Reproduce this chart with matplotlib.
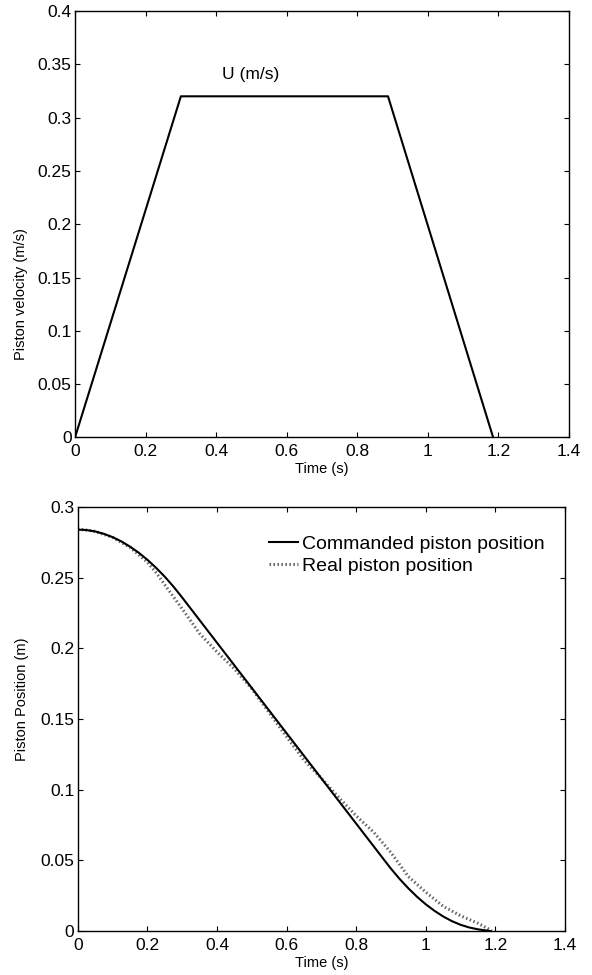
import matplotlib
matplotlib.use("Agg")
import matplotlib.pyplot as plt

plt.rcParams['font.family'] = ['Liberation Sans', 'DejaVu Sans']

# ---- top panel: piston velocity ----
vel_time = [0.0, 0.3, 0.887, 1.185]
vel_values = [0.0, 0.32, 0.32, 0.0]

# ---- bottom panel: piston position ----
cmd_time = [0.0, 0.025, 0.05, 0.075, 0.1, 0.125, 0.15, 0.175, 0.2, 0.225, 0.25, 0.275, 0.3,
            0.4, 0.5, 0.6, 0.7, 0.8, 0.887,
            0.9, 0.925, 0.95, 0.975, 1.0, 1.025, 1.05, 1.075, 1.1, 1.125, 1.15, 1.185]
cmd_pos = [0.2840, 0.2837, 0.2827, 0.2810, 0.2787, 0.2757, 0.2720, 0.2677, 0.2627, 0.2570, 0.2507, 0.2437, 0.2360,
           0.2040, 0.1720, 0.1400, 0.1080, 0.0760, 0.0482,
           0.0441, 0.0368, 0.0302, 0.0242, 0.0189, 0.0143, 0.0103, 0.0070, 0.0044, 0.0025, 0.0012, 0.0]

real_time = [0.0, 0.05, 0.1, 0.15, 0.2, 0.227, 0.25, 0.3, 0.35, 0.4, 0.45, 0.5, 0.55, 0.6, 0.65,
             0.7, 0.75, 0.8, 0.85, 0.9, 0.95, 1.0, 1.05, 1.1, 1.15, 1.18, 1.19]
real_pos = [0.2845, 0.2828, 0.2785, 0.2715, 0.2610, 0.2530, 0.2450, 0.2280, 0.2105, 0.1975, 0.1855,
            0.1715, 0.1545, 0.1375, 0.1210, 0.1080, 0.0945, 0.0815, 0.0700, 0.0555, 0.0385,
            0.0275, 0.0175, 0.0108, 0.0055, 0.0015, 0.0]

xticks = [0, 0.2, 0.4, 0.6, 0.8, 1, 1.2, 1.4]
xtick_labels = ['0', '0.2', '0.4', '0.6', '0.8', '1', '1.2', '1.4']
yticks_top = [0, 0.05, 0.1, 0.15, 0.2, 0.25, 0.3, 0.35, 0.4]
ytick_labels_top = ['0', '0.05', '0.1', '0.15', '0.2', '0.25', '0.3', '0.35', '0.4']
yticks_bot = [0, 0.05, 0.1, 0.15, 0.2, 0.25, 0.3]
ytick_labels_bot = ['0', '0.05', '0.1', '0.15', '0.2', '0.25', '0.3']

fig = plt.figure(figsize=(5.92, 9.75), dpi=100)
ax1 = fig.add_axes([0.1267, 0.5513, 0.8345, 0.4374])
ax2 = fig.add_axes([0.1313, 0.0451, 0.8231, 0.4349])

TICK_FS = 12.5
LABEL_FS = 10.5


def style(ax):
    for sp in ax.spines.values():
        sp.set_linewidth(1.0)
        sp.set_color('black')
    ax.tick_params(direction='in', top=True, right=True, length=3.5, width=0.8,
                   labelsize=TICK_FS, colors='black')
    ax.tick_params(axis='x', pad=5)
    ax.tick_params(axis='y', pad=2.5)


# top
ax1.plot(vel_time, vel_values, color='black', lw=1.5)
ax1.set_xlim(0, 1.4)
ax1.set_ylim(0, 0.4)
ax1.set_xticks(xticks)
ax1.set_xticklabels(xtick_labels)
ax1.set_yticks(yticks_top)
ax1.set_yticklabels(ytick_labels_top)
style(ax1)
ax1.set_xlabel('Time (s)', fontsize=LABEL_FS, va='center')
ax1.xaxis.set_label_coords(0.5, -0.0739)
ax1.set_ylabel('Piston velocity (m/s)', fontsize=LABEL_FS, va='center')
ax1.yaxis.set_label_coords(-0.109, 0.336)
ax1.text(0.498, 0.34, 'U (m/s)', fontsize=12.5, ha='center', va='center')

# bottom
ax2.plot(real_time, real_pos, color='0.4', lw=2.2, ls=(0, (0.5, 0.8)),
         label='Real piston position', zorder=2)
ax2.plot(cmd_time, cmd_pos, color='black', lw=1.5, label='Commanded piston position', zorder=3)
ax2.set_xlim(0, 1.4)
ax2.set_ylim(0, 0.3)
ax2.set_xticks(xticks)
ax2.set_xticklabels(xtick_labels)
ax2.set_yticks(yticks_bot)
ax2.set_yticklabels(ytick_labels_bot)
style(ax2)
ax2.set_xlabel('Time (s)', fontsize=LABEL_FS, va='center')
ax2.xaxis.set_label_coords(0.5, -0.0755)
ax2.set_ylabel('Piston Position (m)', fontsize=LABEL_FS, va='center')
ax2.yaxis.set_label_coords(-0.115, 0.547)

handles, labels = ax2.get_legend_handles_labels()
ax2.legend(handles[::-1], labels[::-1], loc='upper left', bbox_to_anchor=(0.3926, 0.934),
           frameon=False, fontsize=14, handlelength=1.5, handletextpad=0.2,
           labelspacing=0.25, borderpad=0, borderaxespad=0)

fig.savefig('out.png', dpi=100)
